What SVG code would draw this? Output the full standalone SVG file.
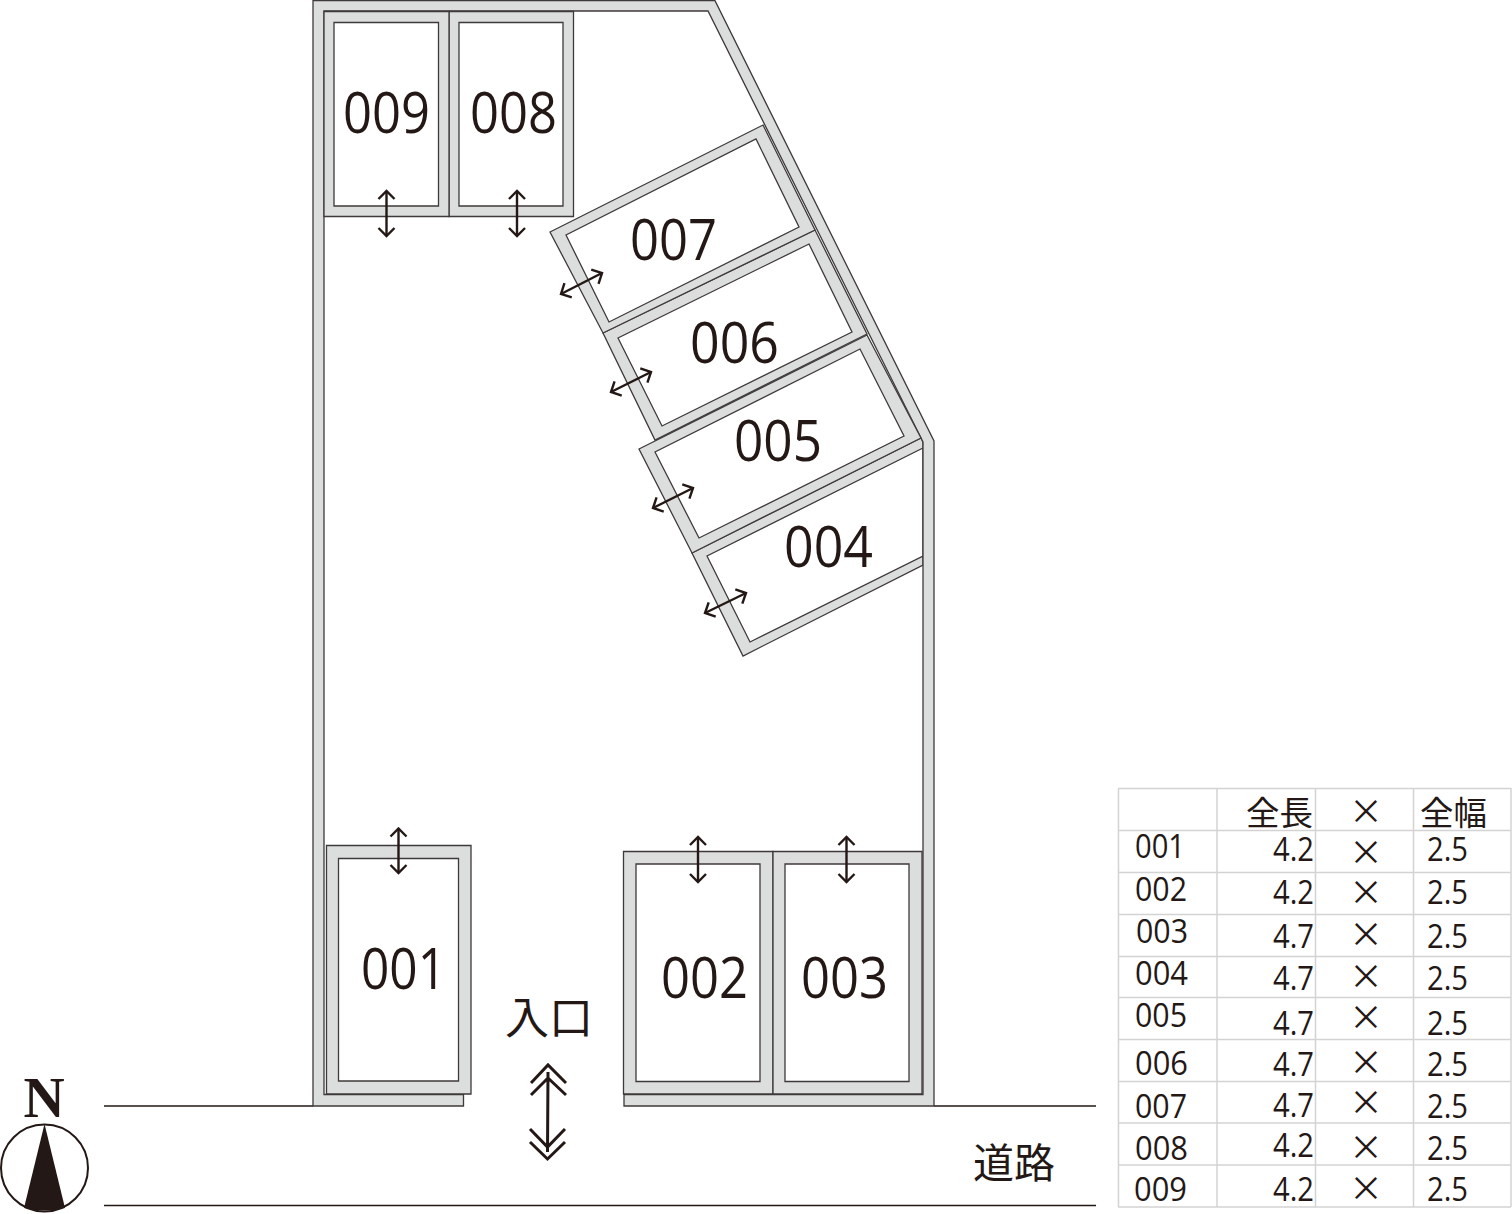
<svg xmlns="http://www.w3.org/2000/svg" width="1512" height="1214" viewBox="0 0 1512 1214">
<style>
text{font-family:"Open Sans","Noto Sans CJK JP",sans-serif;fill:#231815}
.bay{fill:#dcdddd;stroke:#3e3a39;stroke-width:1.3;fill-rule:evenodd}
.wall{fill:#dcdddd;stroke:#3e3a39;stroke-width:1.3}
.num{font-size:57px;font-weight:400}
.cell{font-size:33.5px;font-weight:400}
.cjk{font-family:"Noto Sans CJK JP",sans-serif;font-size:41px;font-weight:400}
.x{font-family:"Noto Sans CJK JP",sans-serif;font-size:34px;text-anchor:middle}
.road{fill:none;stroke:#231815;stroke-width:1.6}
.arr{fill:none;stroke:#231815;stroke-width:2.4;marker-start:url(#a);marker-end:url(#a)}
.grid{stroke:#d3d3d3;stroke-width:1.5;fill:none}
.ent{fill:none;stroke:#231815;stroke-width:3}
</style>
<defs>
<marker id="a" viewBox="-11 -11 13 22" refX="0" refY="0" markerWidth="13" markerHeight="22" markerUnits="userSpaceOnUse" orient="auto-start-reverse">
<path d="M-8,-8 L0,0 L-8,8" fill="none" stroke="#231815" stroke-width="2.4"/>
</marker>
</defs>
<rect width="1512" height="1214" fill="#fff"/>
<g id="road">
<path class="road" d="M104,1106H313M934,1106H1096M104,1205.500H1096"/>
<text class="cjk" x="973" y="1178">道路</text>
</g>
<g id="bay-004">
<path class="bay" d="M692,553L921,438L923,442V565L743,656ZM707,556L750,642L923,556V448Z"/>
<text class="num" x="784" y="567" textLength="89" lengthAdjust="spacingAndGlyphs">004</text>
</g>
<g id="wall">
<path class="wall" d="M313,1106V0.700H715L934,441V1106H624V1094.500H923V442L921,438L708,11H324V1094.500H463.500V1106Z"/>
</g>
<g id="bay-001">
<path class="bay" d="M326.500,845.500H471V1094H326.500ZM338.500,858.500V1081H458.500V858.500Z"/>
<text class="num" x="361" y="989" textLength="85" lengthAdjust="spacingAndGlyphs">001</text>
</g>
<g id="bay-002">
<path class="bay" d="M623.500,851.500H773V1094H623.500ZM636,864V1081.500H760V864Z"/>
<text class="num" x="661" y="998" textLength="87" lengthAdjust="spacingAndGlyphs">002</text>
</g>
<g id="bay-003">
<path class="bay" d="M773,851.500H922V1094H773ZM785,864V1081.500H909V864Z"/>
<text class="num" x="801" y="998" textLength="87" lengthAdjust="spacingAndGlyphs">003</text>
</g>
<g id="bay-005">
<path class="bay" d="M639,449L867,335L921,438L692,553ZM655,452L699,538L904,436L860,349Z"/>
<text class="num" x="734" y="461" textLength="88" lengthAdjust="spacingAndGlyphs">005</text>
</g>
<g id="bay-006">
<path class="bay" d="M603,333L815,230L867,334L655,440ZM618,338L662,426L852,332L809,244Z"/>
<text class="num" x="690" y="363" textLength="89" lengthAdjust="spacingAndGlyphs">006</text>
</g>
<g id="bay-007">
<path class="bay" d="M550,232L763,125L815,230L603,333ZM566,235L609,322L799,227L756,139Z"/>
<text class="num" x="630" y="260" textLength="87" lengthAdjust="spacingAndGlyphs">007</text>
</g>
<g id="bay-008">
<path class="bay" d="M449,11.500H573.500V216.500H449ZM459,22.500V206H563V22.500Z"/>
<text class="num" x="470" y="133" textLength="87" lengthAdjust="spacingAndGlyphs">008</text>
</g>
<g id="bay-009">
<path class="bay" d="M324,11.500H449V216.500H324ZM334,22.500V206H438.500V22.500Z"/>
<text class="num" x="343" y="133" textLength="87" lengthAdjust="spacingAndGlyphs">009</text>
</g>
<g id="connectors">
<path class="arr" d="M386.500,191V236"/>
<path class="arr" d="M517,191V236"/>
<path class="arr" d="M398.500,828.500V873"/>
<path class="arr" d="M698,837V882"/>
<path class="arr" d="M846.500,837V882"/>
<path class="arr" d="M561,294L602,273"/>
<path class="arr" d="M611,392L651,372"/>
<path class="arr" d="M653,508L693,488"/>
<path class="arr" d="M705,613L746,593"/>
<path class="ent" d="M548,1072L547.500,1152M531,1083L548,1065L566,1083M531,1095L548,1078L566,1095M530,1129L547.500,1147L565,1129M530,1142L547.500,1159L565,1142"/>
</g>
<g id="entrance">
<text class="cjk" x="505" y="1034" style="font-size:44px">入口</text>
</g>
<g id="north">
<text x="44" y="1117" style="font-family:'Liberation Serif',serif;font-weight:700;font-size:57px;text-anchor:middle">N</text>
<circle cx="44.500" cy="1168" r="43.500" fill="none" stroke="#231815" stroke-width="2"/>
<path d="M44.500,1124L65,1208Q44,1213 24,1208Z" fill="#231815"/>
</g>
<g id="table">
<path class="grid" d="M1118.500,788V1207M1217,788V1207M1315.500,788V1207M1413.500,788V1207M1511,788V1207M1118,788.500H1511M1118,830.500H1511M1118,872.500H1511M1118,914.500H1511M1118,956.500H1511M1118,997.500H1511M1118,1039.500H1511M1118,1081.500H1511M1118,1123H1511M1118,1165H1511M1118,1207H1511"/>
<text class="cjk" x="1246" y="825" style="font-size:33.500px">全長</text>
<text class="cjk" x="1420" y="825" style="font-size:33.500px">全幅</text>
<text class="x" x="1366" y="824">×</text>
<text class="cell" x="1135" y="858" textLength="50" lengthAdjust="spacingAndGlyphs">001</text>
<text class="cell" x="1135" y="901" textLength="52" lengthAdjust="spacingAndGlyphs">002</text>
<text class="cell" x="1136" y="943" textLength="52" lengthAdjust="spacingAndGlyphs">003</text>
<text class="cell" x="1135" y="985" textLength="53" lengthAdjust="spacingAndGlyphs">004</text>
<text class="cell" x="1135" y="1027" textLength="52" lengthAdjust="spacingAndGlyphs">005</text>
<text class="cell" x="1135" y="1075" textLength="53" lengthAdjust="spacingAndGlyphs">006</text>
<text class="cell" x="1135" y="1118" textLength="52" lengthAdjust="spacingAndGlyphs">007</text>
<text class="cell" x="1135" y="1160" textLength="53" lengthAdjust="spacingAndGlyphs">008</text>
<text class="cell" x="1134" y="1201" textLength="53" lengthAdjust="spacingAndGlyphs">009</text>
<text class="cell" x="1273" y="861" textLength="41" lengthAdjust="spacingAndGlyphs">4.2</text>
<text class="cell" x="1273" y="904" textLength="41" lengthAdjust="spacingAndGlyphs">4.2</text>
<text class="cell" x="1273" y="948" textLength="41" lengthAdjust="spacingAndGlyphs">4.7</text>
<text class="cell" x="1273" y="990" textLength="41" lengthAdjust="spacingAndGlyphs">4.7</text>
<text class="cell" x="1273" y="1035" textLength="41" lengthAdjust="spacingAndGlyphs">4.7</text>
<text class="cell" x="1273" y="1076" textLength="41" lengthAdjust="spacingAndGlyphs">4.7</text>
<text class="cell" x="1273" y="1117" textLength="41" lengthAdjust="spacingAndGlyphs">4.7</text>
<text class="cell" x="1273" y="1157" textLength="41" lengthAdjust="spacingAndGlyphs">4.2</text>
<text class="cell" x="1273" y="1201" textLength="41" lengthAdjust="spacingAndGlyphs">4.2</text>
<text class="cell" x="1427" y="861" textLength="41" lengthAdjust="spacingAndGlyphs">2.5</text>
<text class="cell" x="1427" y="904" textLength="41" lengthAdjust="spacingAndGlyphs">2.5</text>
<text class="cell" x="1427" y="948" textLength="41" lengthAdjust="spacingAndGlyphs">2.5</text>
<text class="cell" x="1427" y="990" textLength="41" lengthAdjust="spacingAndGlyphs">2.5</text>
<text class="cell" x="1427" y="1035" textLength="41" lengthAdjust="spacingAndGlyphs">2.5</text>
<text class="cell" x="1427" y="1076" textLength="41" lengthAdjust="spacingAndGlyphs">2.5</text>
<text class="cell" x="1427" y="1118" textLength="41" lengthAdjust="spacingAndGlyphs">2.5</text>
<text class="cell" x="1427" y="1160" textLength="41" lengthAdjust="spacingAndGlyphs">2.5</text>
<text class="cell" x="1427" y="1201" textLength="41" lengthAdjust="spacingAndGlyphs">2.5</text>
<text class="x" x="1366" y="865">×</text>
<text class="x" x="1366" y="905">×</text>
<text class="x" x="1366" y="947">×</text>
<text class="x" x="1366" y="989">×</text>
<text class="x" x="1366" y="1030">×</text>
<text class="x" x="1366" y="1075">×</text>
<text class="x" x="1366" y="1115">×</text>
<text class="x" x="1366" y="1160">×</text>
<text class="x" x="1366" y="1201">×</text>
</g>
</svg>
